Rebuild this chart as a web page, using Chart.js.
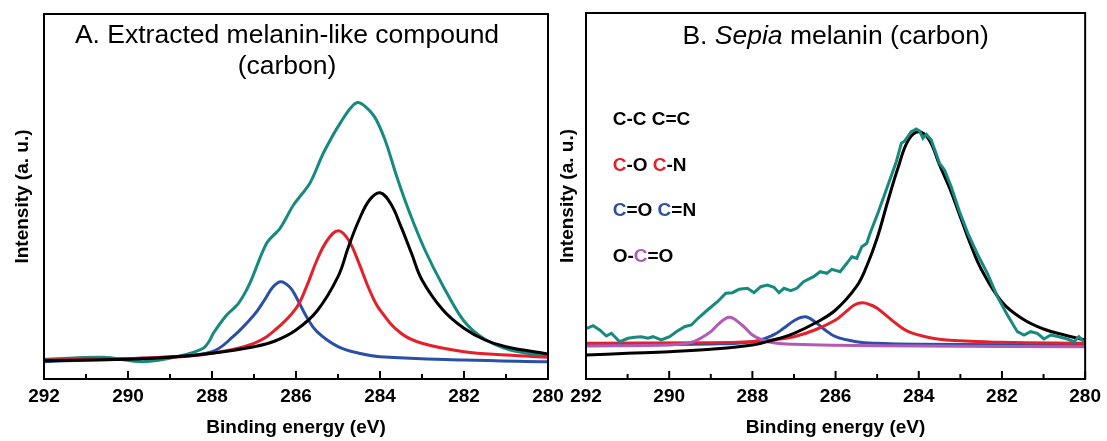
<!DOCTYPE html>
<html>
<head>
<meta charset="utf-8">
<script src="https://cdn.jsdelivr.net/npm/chart.js@4.4.0/dist/chart.umd.min.js"></script>
<style>
  body { margin: 0; background: #fff; width: 1107px; height: 441px; overflow: hidden; position: relative; }
  #wrapA { position: absolute; left: 0; top: 0; width: 575px; height: 441px; }
  #wrapB { position: absolute; left: 550px; top: 0; width: 557px; height: 441px; }
</style>
</head>
<body>
<div id="wrapA"><canvas id="chartA"></canvas></div>
<div id="wrapB"><canvas id="chartB"></canvas></div>
<script>
const FONT = '"Liberation Sans", Arial, Helvetica, sans-serif';

// Panel A - extracted melanin-like compound (binding energy eV / intensity a.u.)
const aEnvelopeEv = [292.0, 290.59, 289.64, 288.76, 288.21, 288.05, 287.97, 287.65, 287.37, 287.10, 286.70, 286.38, 286.06, 285.67, 285.35, 284.95, 284.55, 284.16, 283.88, 283.60, 283.29, 282.93, 282.49, 282.02, 281.54, 280.90, 280.03];
const aEnvelope   = [19.7, 21.7, 17.3, 23, 30.7, 39, 45.7, 64, 75.7, 95.7, 135.7, 150.7, 174, 195.7, 225.7, 255.7, 276.3, 264, 239, 202.3, 165.7, 129, 92.3, 59, 40.7, 29, 23];

const aCCEv = [292, 290, 289, 288, 287, 286.5, 286, 285.5, 285, 284.75, 284.5, 284.25, 284, 283.75, 283.5, 283.25, 283, 282.5, 282, 281.5, 281, 280];
const aCC   = [18.3, 19.7, 21.7, 25.7, 32.3, 38, 49, 68, 102.3, 132.3, 159, 179, 186.3, 175.7, 152.3, 125.7, 99, 69, 50.7, 39, 32.3, 25];

const aCOEv = [292, 289, 288, 287, 286.5, 286, 285.75, 285.5, 285.25, 284.99, 284.75, 284.5, 284.25, 284, 283.5, 283, 282, 281, 280];
const aCO   = [19, 21.7, 25.7, 35.7, 49, 70.7, 92.3, 119, 139, 148.3, 139, 115.7, 89, 69, 45.7, 35.7, 27.3, 24, 21.7];

const aCdOEv = [292, 289, 288, 287.5, 287, 286.75, 286.55, 286.36, 286.15, 286, 285.75, 285.5, 285, 284.5, 284, 282, 280];
const aCdO   = [17.3, 22.3, 27.3, 42.3, 64, 79, 92, 97.3, 92, 82.3, 62.3, 47.3, 32.3, 25.7, 22.3, 19, 17.3];

// Panel B - Sepia melanin
const bEnvelopeEv = [291.98, 291.83, 291.67, 291.51, 291.39, 291.19, 290.99, 290.83, 290.67, 290.51, 290.39, 290.19, 289.99, 289.83, 289.63, 289.47, 289.28, 289.08, 288.84, 288.64, 288.48, 288.32, 288.12, 287.96, 287.80, 287.64, 287.48, 287.36, 287.24, 287.08, 286.93, 286.77, 286.53, 286.37, 286.21, 286.09, 285.89, 285.73, 285.61, 285.49, 285.37, 285.25, 285.17, 284.97, 284.74, 284.54, 284.42, 284.34, 284.18, 284.06, 283.98, 283.90, 283.82, 283.70, 283.50, 283.38, 283.22, 283.02, 282.82, 282.58, 282.35, 282.11, 281.87, 281.63, 281.47, 281.31, 281.15, 280.99, 280.83, 280.63, 280.43, 280.27, 280.15, 280.03];
const bEnvelope   = [50.7, 53.3, 49, 43, 45.7, 37.3, 40.7, 41.7, 42.3, 40.7, 42.3, 39, 42.3, 47.3, 52.3, 54, 61.7, 69, 77.3, 85.7, 86.3, 89.7, 90.7, 86.3, 92.3, 94, 91.7, 86.3, 90.7, 88.3, 90.7, 97.3, 102.3, 107.3, 105.7, 109.7, 107.3, 115.7, 122.3, 120.7, 132.3, 135.7, 145.7, 167.3, 194, 217.3, 235.7, 238, 247.3, 250, 248, 240.7, 244.7, 239, 215.7, 209, 192.3, 167.3, 145.7, 124, 105.7, 82.3, 64, 47.3, 44, 47.3, 45.7, 40, 44, 42.3, 40, 37.3, 42.3, 37.3];

const bCCEv = [292, 291, 290, 289, 288, 287.5, 287, 286.5, 286, 285.5, 285.25, 285, 284.75, 284.5, 284.25, 284, 283.75, 283.5, 283.25, 283, 282.75, 282.5, 282, 281.5, 281, 280.5, 280];
const bCC   = [24, 25.7, 27.3, 29.7, 34, 39, 45.7, 55.7, 69, 92.3, 113, 141, 177, 211, 239, 247.3, 239, 214, 190, 162, 134, 110, 77, 60, 50, 44, 39];

const bCOEv = [292, 289, 288, 287.5, 287, 286.5, 286, 285.75, 285.55, 285.35, 285.15, 285, 284.75, 284.5, 284.25, 284, 283.5, 283, 282, 280];
const bCO   = [35.7, 36.3, 37.3, 39, 42.3, 49, 59, 67.3, 74, 76.3, 74, 70.7, 62.3, 54, 47.3, 44, 39.7, 38.3, 36.7, 35.7];

const bCdOEv = [292, 289, 288, 287.5, 287.25, 287, 286.73, 286.5, 286.25, 286, 285.5, 285, 284, 280];
const bCdO   = [34, 35, 37.3, 44, 50.7, 58.3, 62.3, 57.3, 49, 42.3, 37.3, 35.7, 34.7, 34];

const bOCOEv = [292, 290, 289.5, 289.25, 289, 288.75, 288.54, 288.25, 288, 287.75, 287.5, 287, 286, 284, 280];
const bOCO   = [33, 34, 36.3, 40.7, 47.3, 57.3, 61.7, 54, 44, 39, 36.3, 34.7, 33.7, 33, 32.3];

const xTicksMin = 280, xTicksMax = 292;

const titleA = [[['A. Extracted melanin-like compound', '#000']], [['(carbon)', '#000']]];
const titleB = [[['B. ', '#000'], ['Sepia', '#000', 'italic'], [' melanin (carbon)', '#000']]];

const RED = '#e4202a', BLUE = '#2a4fa6', MAGENTA = '#b15bb4', TEAL = '#178a80';
const legendB = [
  [['C-C C=C', '#000']],
  [['C', RED], ['-O ', '#000'], ['C', RED], ['-N', '#000']],
  [['C', BLUE], ['=O ', '#000'], ['C', BLUE], ['=N', '#000']],
  [['O-', '#000'], ['C', MAGENTA], ['=O', '#000']]
];

function pts(xs, ys) {
  return xs.map((x, i) => ({ x: x, y: ys[i] }));
}

function drawSegments(ctx, segs, x, y, size, weight, align) {
  const fonts = segs.map(s => `${s[2] || 'normal'} ${weight} ${size}px ${FONT}`);
  let total = 0;
  const widths = segs.map((s, i) => {
    ctx.font = fonts[i];
    const w = ctx.measureText(s[0]).width;
    total += w;
    return w;
  });
  let cx = align === 'center' ? x - total / 2 : x;
  ctx.textAlign = 'left';
  ctx.textBaseline = 'middle';
  segs.forEach((s, i) => {
    ctx.font = fonts[i];
    ctx.fillStyle = s[1];
    ctx.fillText(s[0], cx, y);
    cx += widths[i];
  });
}

// frame, inward ticks, panel title and text legend
const panelDecor = {
  id: 'panelDecor',
  afterDatasetsDraw(chart, args, o) {
    const { ctx, chartArea: a, scales: { x } } = chart;
    ctx.save();
    ctx.strokeStyle = '#000';
    ctx.lineWidth = 2;
    ctx.strokeRect(a.left, a.top, a.right - a.left, a.bottom - a.top);
    for (let v = xTicksMin; v <= xTicksMax; v++) {
      const px = x.getPixelForValue(v);
      const len = v % 2 === 0 ? 8 : 5;
      ctx.beginPath();
      ctx.moveTo(px, a.bottom);
      ctx.lineTo(px, a.bottom - len);
      ctx.stroke();
    }
    const cx = (a.left + a.right) / 2 + o.titleShift;
    o.title.forEach((line, i) => drawSegments(ctx, line, cx, a.top + o.titleY[i], 26.5, 'normal', 'center'));
    (o.legend || []).forEach((row, i) => drawSegments(ctx, row, a.left + o.legendX, a.top + o.legendY[i], 19, 'bold', 'left'));
    ctx.restore();
  }
};

function line(data, color, order, tension) {
  return {
    data: data,
    borderColor: color,
    borderWidth: 3,
    pointRadius: 0,
    fill: false,
    tension: tension,
    order: order,
  };
}

function makeChart(id, datasets, yWidth, yMax, titlePad, padding, decor) {
  const tickFont = { family: FONT, size: 19, weight: 'bold' };
  return new Chart(document.getElementById(id), {
    type: 'line',
    data: { datasets: datasets },
    plugins: [panelDecor],
    options: {
      responsive: true,
      maintainAspectRatio: false,
      animation: false,
      layout: { padding: padding },
      plugins: {
        legend: { display: false },
        tooltip: { enabled: false },
        panelDecor: decor,
      },
      scales: {
        x: {
          type: 'linear',
          min: xTicksMin,
          max: xTicksMax,
          reverse: true,
          afterFit: s => { s.height = 62; },
          grid: { display: false, drawTicks: false },
          border: { display: false },
          ticks: { stepSize: 2, color: '#000', font: tickFont, padding: 6, maxRotation: 0, autoSkip: false },
          title: { display: true, text: 'Binding energy (eV)', color: '#000', font: tickFont, padding: { top: 0, bottom: 2 } },
        },
        y: {
          min: 0,
          max: yMax,
          afterFit: s => { s.width = yWidth; },
          grid: { display: false, drawTicks: false },
          border: { display: false },
          ticks: { display: false },
          title: { display: true, text: 'Intensity (a. u.)', color: '#000', font: tickFont, padding: { top: titlePad, bottom: 0 } },
        },
      },
    },
  });
}

makeChart('chartA', [
  line(pts(aCCEv, aCC), '#000', 0, 0.4),
  line(pts(aCOEv, aCO), RED, 1, 0.4),
  line(pts(aCdOEv, aCdO), BLUE, 2, 0.4),
  line(pts(aEnvelopeEv, aEnvelope), TEAL, 3, 0.3),
], 44, 365, 11, { left: 0, right: 27, top: 14, bottom: 0 },
  { title: titleA, titleY: [22, 53], titleShift: -9 });

makeChart('chartB', [
  line(pts(bEnvelopeEv, bEnvelope), TEAL, 0, 0),
  line(pts(bCCEv, bCC), '#000', 1, 0.4),
  line(pts(bOCOEv, bOCO), MAGENTA, 2, 0.4),
  line(pts(bCOEv, bCO), RED, 3, 0.4),
  line(pts(bCdOEv, bCdO), BLUE, 4, 0.4),
], 36, 366, 6, { left: 0, right: 19, top: 13, bottom: 0 },
  { title: titleB, titleY: [23.5], titleShift: 0, legend: legendB, legendX: 26.7, legendY: [107, 152.5, 198, 243.5] });
</script>
</body>
</html>
